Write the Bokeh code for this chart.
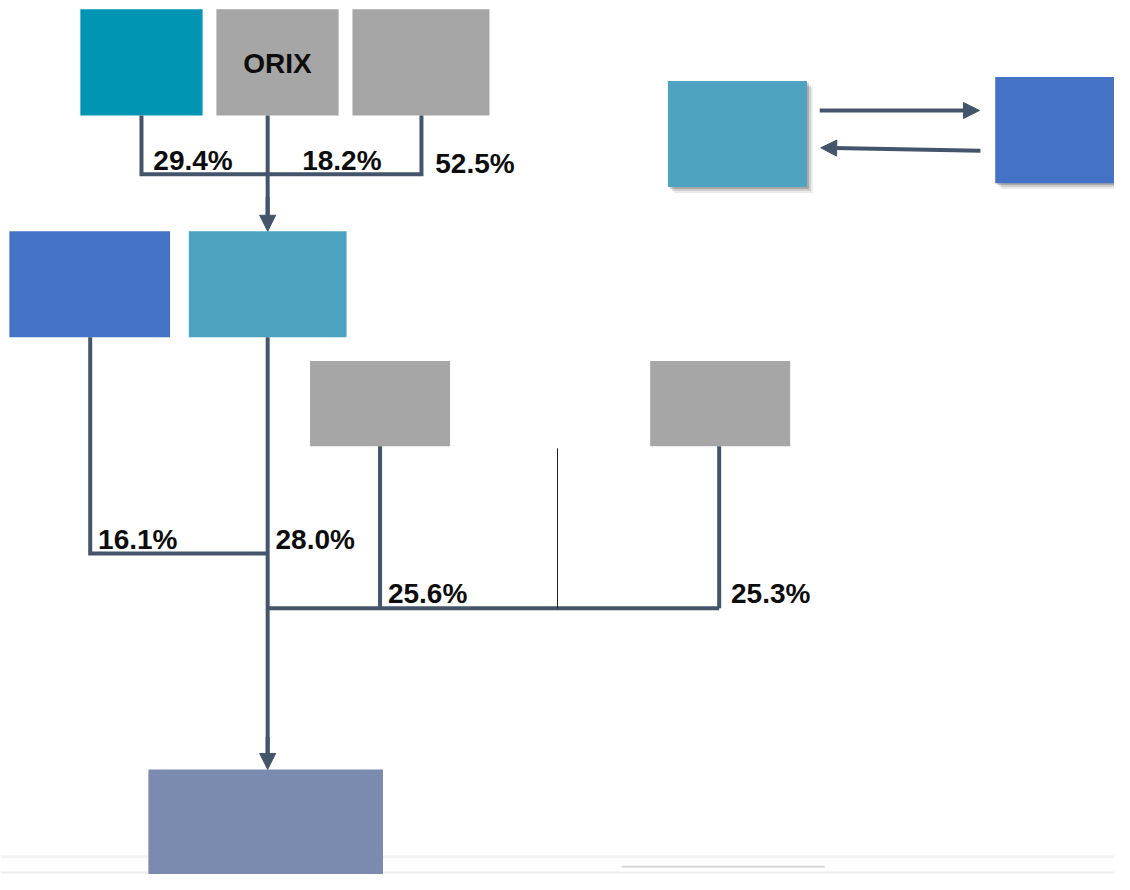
from bokeh.plotting import figure
from bokeh.models import Range1d, Arrow, NormalHead, ColumnDataSource
from bokeh.core.properties import value
from bokeh.embed import file_html
from bokeh.resources import INLINE

# ---- data ----
box_names = ["", "ORIX", "", "", "", "", "", "", "", ""]
box_colors = ["#0095B3", "#A6A6A6", "#A6A6A6", "#4472C4", "#4BA3C0",
              "#A6A6A6", "#A6A6A6", "#7A8BAF", "#4EA3C0", "#4472C4"]
share_labels = ["29.4%", "18.2%", "52.5%", "16.1%", "28.0%", "25.6%", "25.3%"]

# ---- layout (reference picture coordinates) ----
box_left = [81, 219, 357, 9, 191, 314, 659, 150, 677, 1009]
box_right = [205, 343, 496, 172, 351, 456, 801, 388, 818, 1140]
box_top = [9, 9, 9, 235, 235, 367, 367, 783, 82, 78]
box_bottom = [117, 117, 117, 343, 343, 454, 454, 900, 190, 186]
shadow = [False] * 8 + [True, True]

label_x = [155, 306, 441, 99, 279, 393, 741]
label_y = [163, 163, 166, 549, 549, 604, 604]

LINE = "#44546A"
W = 1114
H = 874
p = figure(width=W, height=H, output_backend="svg", toolbar_location=None,
           x_range=Range1d(0, 1130), y_range=Range1d(890, 0),
           x_axis_location=None, y_axis_location=None, min_border=0)
p.grid.visible = False
p.outline_line_color = None
p.background_fill_color = "white"

# faint background lines at the bottom
p.segment(x0=[0, 630, 0], y0=[872, 882, 888], x1=[1130, 836, 1130], y1=[872, 882, 888],
          line_color=["#F3F3F3", "#D8D8D8", "#EEEEEE"], line_width=[3, 2, 2])

# shadows
for i in range(len(box_left)):
    if shadow[i]:
        for k, a in [(6, 0.08), (4, 0.12), (2, 0.18)]:
            p.quad(left=box_left[i] + k, right=box_right[i] + k, top=box_top[i] + k,
                   bottom=box_bottom[i] + k, fill_color="#000000", fill_alpha=a, line_color=None)

src = ColumnDataSource(dict(left=box_left, right=box_right, top=box_top,
                            bottom=box_bottom, color=box_colors))
p.quad(left="left", right="right", top="top", bottom="bottom", fill_color="color",
       line_color=None, source=src)

# box names
cx = [(l + r) / 2 for l, r in zip(box_left, box_right)]
p.text(x=[cx[1]], y=[64], text=[box_names[1]], text_font=value("Liberation Sans"),
       text_font_style="bold", text_font_size="28px", text_align="center",
       text_baseline="middle", text_color="#0D0D0D")

# connector lines
xs = [
    [143, 143, 427, 427],
    [271, 271],
    [91, 91, 271],
    [271, 271],
    [385, 385],
    [729, 729],
    [271, 729],
]
ys = [
    [117, 177, 177, 117],
    [117, 224],
    [343, 563, 563],
    [343, 772],
    [454, 619],
    [454, 619],
    [619, 619],
]
p.multi_line(xs=xs, ys=ys, line_color=LINE, line_width=4, line_join="miter")
p.segment(x0=[565], y0=[456], x1=[565], y1=[619], line_color="#222222", line_width=1)

# arrowheads
for (x0, y0, x1, y1) in [(271, 200, 271, 235), (271, 750, 271, 783)]:
    p.add_layout(Arrow(end=NormalHead(size=16, fill_color=LINE, line_color=LINE),
                       x_start=x0, y_start=y0, x_end=x1, y_end=y1,
                       line_color=LINE, line_width=4))
p.add_layout(Arrow(end=NormalHead(size=16, fill_color=LINE, line_color=LINE),
                   x_start=831, y_start=112, x_end=993, y_end=112,
                   line_color=LINE, line_width=4))
p.add_layout(Arrow(end=NormalHead(size=16, fill_color=LINE, line_color=LINE),
                   x_start=994, y_start=153, x_end=832, y_end=150,
                   line_color=LINE, line_width=4))

# percentage labels
p.text(x=label_x, y=label_y, text=share_labels, text_font=value("Liberation Sans"),
       text_font_style="bold", text_font_size="28px", text_align="left",
       text_baseline="middle", text_color="#0D0D0D")

open("out.html", "w").write(file_html(p, INLINE))
